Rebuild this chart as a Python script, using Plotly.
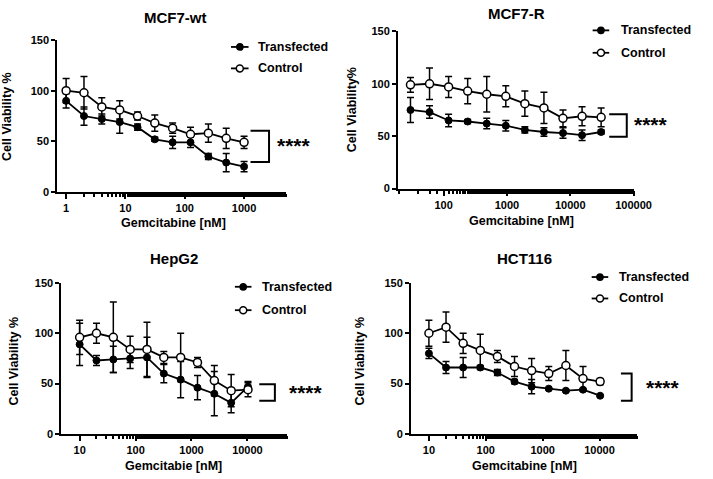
import plotly.graph_objects as go

W, H = 713, 479

# ---------------- data ----------------
mcf7wt_dose = [1, 2, 4, 8, 16, 31.25, 62.5, 125, 250, 500, 1000]
mcf7wt_trans = [90, 75, 72, 69, 64, 52, 49, 49, 35, 29, 25]
mcf7wt_trans_err = [7, 9, 5, 11, 3, 2, 6, 5, 3, 9, 5]
mcf7wt_ctrl = [100, 98, 84, 81, 75, 68, 63, 57, 58, 53, 49]
mcf7wt_ctrl_err = [12, 16, 9, 9, 4, 8, 5, 7, 9, 10, 6]

mcf7r_dose = [30, 60, 120, 240, 480, 960, 1920, 3840, 7680, 15360, 30720]
mcf7r_trans = [75, 73, 65, 64, 62, 60, 56, 54, 53, 51, 54]
mcf7r_trans_err = [12, 6, 6, 2, 5, 5, 3, 4, 5, 5, 2]
mcf7r_ctrl = [99, 100, 97, 93, 90, 88, 81, 77, 67, 69, 68]
mcf7r_ctrl_err = [7, 15, 10, 12, 17, 10, 12, 15, 8, 9, 9]

hepg2_dose = [10, 20, 40, 80, 160, 320, 640, 1280, 2560, 5120, 10240]
hepg2_trans = [89, 73, 74, 75, 76, 60, 54, 46, 40, 31, 47]
hepg2_trans_err = [21, 5, 13, 10, 20, 9, 18, 12, 22, 10, 5]
hepg2_ctrl = [96, 100, 96, 84, 84, 76, 76, 71, 53, 43, 44]
hepg2_ctrl_err = [17, 10, 35, 13, 27, 6, 24, 5, 15, 16, 7]

hct116_dose = [10, 20, 40, 80, 160, 320, 640, 1280, 2560, 5120, 10240]
hct116_trans = [80, 66, 66, 66, 61, 52, 47, 45, 43, 44, 38]
hct116_trans_err = [5, 6, 10, 2, 3, 2, 7, 1, 1, 1, 1]
hct116_ctrl = [100, 106, 90, 83, 77, 67, 63, 60, 68, 55, 52]
hct116_ctrl_err = [13, 15, 10, 16, 6, 10, 12, 7, 15, 12, 3]

titles = ["MCF7-wt", "MCF7-R", "HepG2", "HCT116"]
xtitles = ["Gemcitabine [nM]", "Gemcitabine [nM]", "Gemcitabie [nM]", "Gemcitabine [nM]"]
ytitles = ["Cell Viability %", "Cell Viability%", "Cell Viability %", "Cell Viability %"]
xtick_sets = [[1, 10, 100, 1000], [100, 1000, 10000, 100000],
              [10, 100, 1000, 10000], [10, 100, 1000, 10000]]
ytick_vals = [0, 50, 100, 150]
series_names = ["Transfected", "Control"]
significance = "****"

data = [
    (mcf7wt_dose, mcf7wt_trans, mcf7wt_trans_err, mcf7wt_ctrl, mcf7wt_ctrl_err),
    (mcf7r_dose, mcf7r_trans, mcf7r_trans_err, mcf7r_ctrl, mcf7r_ctrl_err),
    (hepg2_dose, hepg2_trans, hepg2_trans_err, hepg2_ctrl, hepg2_ctrl_err),
    (hct116_dose, hct116_trans, hct116_trans_err, hct116_ctrl, hct116_ctrl_err),
]

# ---------------- layout geometry (pixels) ----------------
def px(x):
    return x / W

def py(y):
    return 1 - y / H

areas = [
    dict(l=58.7, r=293, t=35, b=190.7, xr=[-0.15, 3.7]),
    dict(l=408.3, r=650, t=26, b=187.3, xr=[1.28, 5.0]),
    dict(l=63, r=294, t=284, b=439, xr=[0.674, 4.70]),
    dict(l=421.7, r=653, t=284, b=439, xr=[0.686, 4.65]),
]
title_pos = [(180, 12), (530, 8), (178, 259), (538, 259)]
xtitle_pos = [(178, 222.5), (535, 221), (178, 472), (538, 472)]
ytitle_pos = [(7, 113), (361, 106), (14, 364), (369, 364)]
# legend: line x start, line x end, text x start, row1 y, row2 y
legend_geo = [
    (237, 255, 263, 42, 64),
    (608, 625, 635, 25, 48),
    (241, 258, 267, 288, 312),
    (607, 624, 633, 278, 300),
]
brackets = [
    (257, 276, 128, 160, (302, 143)),
    (625, 643, 111, 134, (668, 122)),
    (266, 282, 388, 405, (314, 396)),
    (637, 648, 377, 405, (680, 391)),
]

FONT = "Arial, Liberation Sans, sans-serif"

fig = go.Figure()
layout = dict(
    width=W, height=H, margin=dict(l=0, r=0, t=0, b=0),
    paper_bgcolor="white", plot_bgcolor="white", showlegend=False,
    annotations=[], shapes=[],
)

for i, (dose, tr, tre, ct, cte) in enumerate(data):
    k = i + 1
    xa = "x" if k == 1 else f"x{k}"
    ya = "y" if k == 1 else f"y{k}"
    fig.add_trace(go.Scatter(
        x=dose, y=tr, name=series_names[0], mode="lines+markers",
        xaxis=xa, yaxis=ya,
        line=dict(color="black", width=1.8),
        marker=dict(symbol="circle", size=7, color="black",
                    line=dict(color="black", width=1)),
        error_y=dict(type="data", array=tre, visible=True, color="black",
                     thickness=1.5, width=3.5),
    ))
    fig.add_trace(go.Scatter(
        x=dose, y=ct, name=series_names[1], mode="lines+markers",
        xaxis=xa, yaxis=ya,
        line=dict(color="black", width=1.8),
        marker=dict(symbol="circle", size=8, color="white",
                    line=dict(color="black", width=1.5)),
        error_y=dict(type="data", array=cte, visible=True, color="black",
                     thickness=1.5, width=3.5),
    ))

    a = areas[i]
    xkey = "xaxis" if k == 1 else f"xaxis{k}"
    ykey = "yaxis" if k == 1 else f"yaxis{k}"
    layout[xkey] = dict(
        type="log", range=a["xr"], domain=[px(a["l"]), px(a["r"])], anchor=ya,
        showline=True, linecolor="black", linewidth=2,
        ticks="outside", ticklen=5, tickwidth=2, tickcolor="black",
        tickvals=xtick_sets[i], ticktext=[str(v) for v in xtick_sets[i]],
        tickfont=dict(family=FONT, size=11, color="black", weight="bold"),
        showgrid=False, zeroline=False,
        minor=dict(ticks="outside", ticklen=3, tickwidth=1.5, tickcolor="black",
                   showgrid=False),
    )
    layout[ykey] = dict(
        range=[0, 150], domain=[py(a["b"]), py(a["t"])], anchor=xa,
        showline=True, linecolor="black", linewidth=2,
        ticks="outside", ticklen=4, tickwidth=2, tickcolor="black",
        tickvals=ytick_vals, ticktext=[str(v) for v in ytick_vals],
        tickfont=dict(family=FONT, size=11, color="black", weight="bold"),
        showgrid=False, zeroline=False,
    )

    # legend (drawn manually for exact placement)
    lx0, lx1, ltx, r1, r2 = legend_geo[i]
    for name, ry, filled in ((series_names[0], r1, True), (series_names[1], r2, False)):
        layout["shapes"].append(dict(
            type="line", xref="paper", yref="paper",
            x0=px(lx0), x1=px(lx1), y0=py(ry), y1=py(ry),
            line=dict(color="black", width=1.8)))
        cx = (lx0 + lx1) / 2
        rr = 3.2 if filled else 3.6
        layout["shapes"].append(dict(
            type="circle", xref="paper", yref="paper",
            x0=px(cx - rr), x1=px(cx + rr), y0=py(ry + rr), y1=py(ry - rr),
            fillcolor="black" if filled else "white",
            line=dict(color="black", width=1.5)))
        layout["annotations"].append(dict(
            text=name, x=px(ltx), y=py(ry), xref="paper", yref="paper",
            xanchor="left", yanchor="middle", showarrow=False,
            font=dict(family=FONT, size=12.5, color="black", weight="bold")))

    # texts
    tx, ty = title_pos[i]
    layout["annotations"].append(dict(
        text=titles[i], x=px(tx), y=py(ty), xref="paper", yref="paper",
        xanchor="center", yanchor="middle", showarrow=False,
        font=dict(family=FONT, size=15, color="black", weight="bold")))
    tx, ty = xtitle_pos[i]
    layout["annotations"].append(dict(
        text=xtitles[i], x=px(tx), y=py(ty), xref="paper", yref="paper",
        xanchor="center", yanchor="middle", showarrow=False,
        font=dict(family=FONT, size=12.5, color="black", weight="bold")))
    tx, ty = ytitle_pos[i]
    layout["annotations"].append(dict(
        text=ytitles[i], x=px(tx), y=py(ty), xref="paper", yref="paper",
        xanchor="center", yanchor="middle", showarrow=False, textangle=-90,
        font=dict(family=FONT, size=12.5, color="black", weight="bold")))

    # significance bracket
    x0, xv, yt, yb, (sx, sy) = brackets[i]
    layout["shapes"].append(dict(
        type="path", xref="paper", yref="paper",
        path=f"M {px(x0)} {py(yt)} L {px(xv)} {py(yt)} L {px(xv)} {py(yb)} L {px(x0)} {py(yb)}",
        line=dict(color="black", width=2)))
    layout["annotations"].append(dict(
        text=significance, x=px(sx), y=py(sy), xref="paper", yref="paper",
        xanchor="center", yanchor="middle", showarrow=False,
        font=dict(family=FONT, size=21, color="black", weight="bold")))

fig.update_layout(**layout)
fig.write_html("out.html")
